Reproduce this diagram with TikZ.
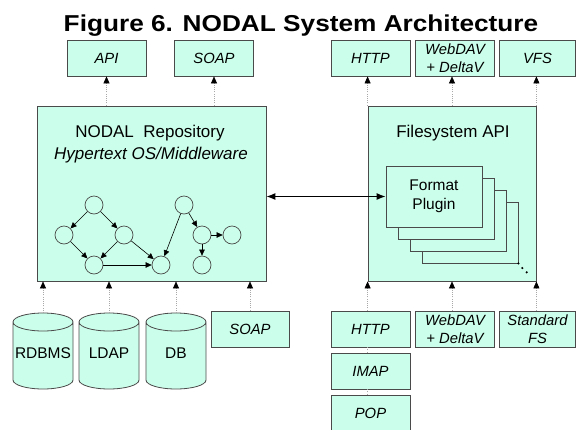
\documentclass[tikz,border=0pt]{standalone}
\usepackage{fontspec}
\setmainfont{Liberation Sans}
\newfontfamily\titlefont{Liberation Sans}[FakeStretch=1.14]
\usetikzlibrary{arrows.meta}
\definecolor{mint}{HTML}{CCFFEB}
\definecolor{edgec}{HTML}{4A4A4A}
\definecolor{dotc}{HTML}{A8A8A8}
\newcommand\cylnode[3]{%
  \fill[mint] (#2-30,-322) -- (#2-30,-380) arc[start angle=180,end angle=360,x radius=30,y radius=9]
     -- (#2+30,-322) arc[start angle=0,end angle=180,x radius=30,y radius=9] -- cycle;
  \draw[edgec,line width=0.8pt] (#2-30,-322) -- (#2-30,-380) arc[start angle=180,end angle=360,x radius=30,y radius=9]
     -- (#2+30,-322) arc[start angle=0,end angle=180,x radius=30,y radius=9]
     arc[start angle=180,end angle=360,x radius=30,y radius=9];
  \node[cyltext] (#1) at (#2,-353) {#3};
}
\begin{document}
\begin{tikzpicture}[x=1pt,y=1pt,
  box/.style={draw=edgec,fill=mint,line width=0.8pt,inner sep=0pt},
  sbox/.style={box,minimum width=79pt,minimum height=36pt,align=center,
     font=\fontsize{14.8}{18.5}\selectfont\itshape},
  bigbox/.style={box,minimum height=175pt},
  plug/.style={box,minimum width=96pt,minimum height=61pt},
  bigtext/.style={font=\fontsize{17}{20}\selectfont,inner sep=0pt},
  cyltext/.style={font=\fontsize{15.5}{18}\selectfont,inner sep=0pt},
  conn/.style={draw=dotc,line width=0.6pt,dash pattern=on 1pt off 1.2pt,
     -{Triangle[length=7pt,width=6pt,color=black]}},
  plainconn/.style={draw=dotc,line width=0.6pt,dash pattern=on 1pt off 1.2pt},
  gnode/.style={circle,draw=edgec,line width=0.7pt,minimum size=18pt,inner sep=0pt},
  gedge/.style={draw=black,line width=0.6pt,-{Triangle[length=6pt,width=5.5pt]}},
  dbl/.style={draw=black,line width=1.1pt,{Latex[length=9pt,width=7pt]}-{Latex[length=9pt,width=7pt]}},
  dotn/.style={circle,fill=black,inner sep=0pt,minimum size=2.4pt}
]
\useasboundingbox (0,0) rectangle (576,-429);

% title
\node[anchor=base,inner sep=0pt,font=\titlefont\fontsize{23}{26}\selectfont\bfseries] (title) at (301,-31) {Figure 6. NODAL System Architecture};

% top boxes
\node[sbox] (api)   at (106.5,-58) {API};
\node[sbox] (soapt) at (214,-58) {SOAP};
\node[sbox] (httpt) at (370.5,-58) {HTTP};
\node[sbox] (webt)  at (455,-58) {WebDAV\\+ DeltaV};
\node[sbox,minimum width=76pt] (vfst) at (537.5,-58) {VFS};

% main boxes
\node[bigbox,minimum width=229pt] (nodal) at (151.5,-193.5) {};
\node[bigbox,minimum width=168pt] (fs) at (452,-193.5) {};

\node[bigtext,anchor=base] (nodalt) at (150,-137.7) {NODAL\ \ Repository};
\node[bigtext,anchor=base,font=\fontsize{17}{20}\selectfont\itshape] (hyper) at (151,-159.3) {Hypertext OS/Middleware};
\node[bigtext,anchor=base] (fst) at (453,-137.7) {Filesystem API};

% plugin stack
\node[plug] (p4) at (470,-232.5) {};
\node[plug] (p3) at (458,-220.5) {};
\node[plug] (p2) at (446,-208.5) {};
\node[plug,align=center,font=\fontsize{15.5}{19.3}\selectfont] (p1) at (434,-196.5) {Format\\Plugin};
\node[dotn] (d1) at (p4.south east) {};
\node[dotn] (d2) at (522.3,-268) {};
\node[dotn] (d3) at (526.7,-272.3) {};

% graph inside repository
\node[gnode] (ga) at (94,-205) {};
\node[gnode] (gb) at (64,-235) {};
\node[gnode] (gc) at (124,-235) {};
\node[gnode] (gd) at (94,-265) {};
\node[gnode] (ge) at (161,-265) {};
\node[gnode] (gf) at (184,-205) {};
\node[gnode] (gg) at (202,-235) {};
\node[gnode] (gh) at (232,-235) {};
\node[gnode] (gi) at (202,-265) {};
\draw[gedge] (ga) -- (gb);
\draw[gedge] (ga) -- (gc);
\draw[gedge] (gb) -- (gd);
\draw[gedge] (gc) -- (gd);
\draw[gedge] (gc) -- (ge);
\draw[gedge] (gd) -- (ge);
\draw[gedge] (gf) -- (ge);
\draw[gedge] (gf) -- (gg);
\draw[gedge] (gg) -- (gh);
\draw[gedge] (gg) -- (gi);

% double arrow
\draw[dbl] (nodal.east |- p1.west) -- (p1.west);

% bottom left
\cylnode{rdbms}{43}{RDBMS}
\cylnode{ldap}{109}{LDAP}
\cylnode{db}{176}{DB}
\node[sbox,minimum width=78pt] (soapb) at (250,-329) {SOAP};

% bottom right
\node[sbox] (httpb) at (370.5,-329) {HTTP};
\node[sbox] (imap)  at (370.5,-371) {IMAP};
\node[sbox] (pop)   at (370.5,-413) {POP};
\node[sbox] (webb)  at (455,-329) {WebDAV\\+ DeltaV};
\node[sbox,minimum width=76pt] (stdfs) at (537.5,-329) {Standard\\FS};

% connectors top
\draw[conn] (nodal.north -| api.south) -- (api.south);
\draw[conn] (nodal.north -| soapt.south) -- (soapt.south);
\draw[conn] (fs.north west) -- (fs.north west |- httpt.south);
\draw[conn] (fs.north) -- (fs.north |- webt.south);
\draw[conn] (fs.north east) -- (fs.north east |- vfst.south);

% connectors bottom
\draw[conn] (rdbms.center |- 0,-313) -- (rdbms.center |- nodal.south);
\draw[conn] (ldap.center |- 0,-313) -- (ldap.center |- nodal.south);
\draw[conn] (db.center |- 0,-313) -- (db.center |- nodal.south);
\draw[conn] (soapb.north) -- (soapb.north |- nodal.south);
\draw[plainconn] (pop.north -| fs.south west) -- (imap.south -| fs.south west);
\draw[plainconn] (imap.north -| fs.south west) -- (httpb.south -| fs.south west);
\draw[conn] (httpb.north -| fs.south west) -- (fs.south west);
\draw[conn] (webb.north -| fs.south) -- (fs.south);
\draw[conn] (stdfs.north -| fs.south east) -- (fs.south east);
\end{tikzpicture}
\end{document}
